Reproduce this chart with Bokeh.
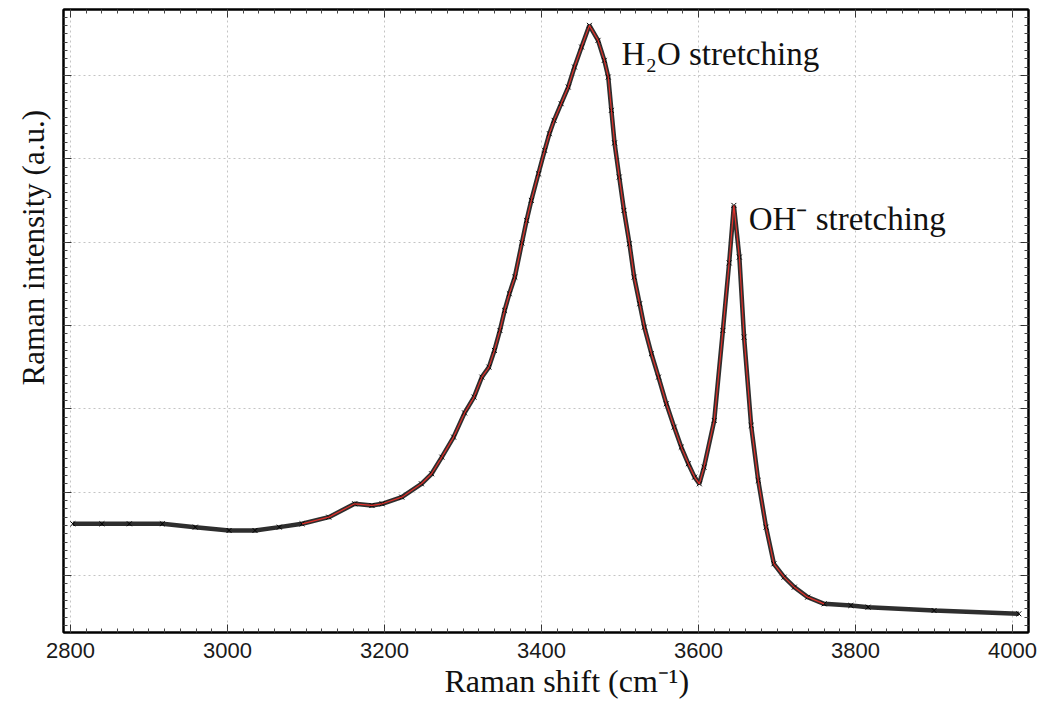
from bokeh.plotting import figure
from bokeh.models import Range1d, LinearAxis, SingleIntervalTicker, Label, Title
from bokeh.embed import file_html
from bokeh.resources import INLINE

# Raman shift (cm^-1) and intensity (a.u.)
wavenumber = [2803, 2840, 2875, 2917, 2959, 3002, 3035, 3066, 3095, 3129,
              3162, 3184, 3197, 3222, 3247, 3260, 3273, 3288, 3302, 3314,
              3324, 3333, 3340, 3347, 3353, 3359, 3366, 3375, 3381, 3387,
              3396, 3404, 3410, 3416, 3425, 3434, 3442, 3451, 3461, 3472,
              3480, 3485, 3489, 3493, 3499, 3505, 3512, 3518, 3525, 3531,
              3540, 3549, 3559, 3569, 3578, 3587, 3595, 3601, 3607, 3620,
              3631, 3639, 3645, 3652, 3658, 3667, 3676, 3686, 3696, 3709,
              3722, 3739, 3760, 3794, 3816, 3900, 4008]
intensity = [1.62, 1.62, 1.62, 1.62, 1.58, 1.54, 1.54, 1.58, 1.62, 1.70,
             1.86, 1.84, 1.86, 1.94, 2.10, 2.22, 2.42, 2.66, 2.95, 3.14,
             3.38, 3.50, 3.70, 3.94, 4.18, 4.38, 4.58, 4.99, 5.26, 5.50,
             5.82, 6.10, 6.30, 6.46, 6.66, 6.86, 7.10, 7.34, 7.60, 7.42,
             7.18, 6.98, 6.58, 6.19, 5.78, 5.38, 4.98, 4.58, 4.26, 3.98,
             3.66, 3.38, 3.06, 2.78, 2.54, 2.34, 2.18, 2.10, 2.30, 2.86,
             3.94, 4.75, 5.44, 4.82, 3.86, 2.80, 2.14, 1.58, 1.14, 0.98,
             0.86, 0.74, 0.66, 0.64, 0.62, 0.58, 0.54]
fit_range = [3095, 3760]

x_ticks_interval = 200
y_ticks_interval = 1

fit_x = [x for x in wavenumber if fit_range[0] <= x <= fit_range[1]]
fit_y = [y for x, y in zip(wavenumber, intensity) if fit_range[0] <= x <= fit_range[1]]

p = figure(width=1051, height=705,
           x_range=Range1d(2791.1, 4020.3), y_range=Range1d(0.316, 7.79),
           output_backend="svg", toolbar_location=None,
           min_border_left=61, min_border_right=23,
           min_border_top=9, min_border_bottom=73)
p.background_fill_color = "white"
p.border_fill_color = "white"
p.outline_line_color = "black"
p.outline_line_width = 2

xt = SingleIntervalTicker(interval=x_ticks_interval, num_minor_ticks=10)
yt = SingleIntervalTicker(interval=y_ticks_interval, num_minor_ticks=10)

def style_axis(ax, show_labels):
    ax.axis_line_color = "black"
    ax.axis_line_width = 2
    ax.major_tick_in = 8
    ax.major_tick_out = 0
    ax.minor_tick_in = 4
    ax.minor_tick_out = 0
    ax.major_tick_line_color = "#333333"
    ax.minor_tick_line_color = "#444444"
    if show_labels:
        ax.major_label_text_font = "Liberation Sans"
        ax.major_label_text_font_size = "22px"
        ax.major_label_text_color = "#1a1a1a"
        ax.major_label_standoff = 10
    else:
        ax.major_label_text_font_size = "0px"
        ax.major_label_text_color = None
        ax.major_label_standoff = 0

p.xaxis.ticker = xt
p.yaxis.ticker = yt
style_axis(p.xaxis[0], True)
style_axis(p.yaxis[0], False)

top = LinearAxis(ticker=xt)
style_axis(top, False)
p.add_layout(top, "above")
right = LinearAxis(ticker=yt)
style_axis(right, False)
p.add_layout(right, "right")

p.xgrid.ticker = xt
p.ygrid.ticker = yt
for g in (p.xgrid[0], p.ygrid[0]):
    g.grid_line_color = "#c4c4c4"
    g.grid_line_dash = "2 3"
    g.grid_line_width = 1

# measured data (dense markers look like a thick dark band)
p.line(wavenumber, intensity, color="black", line_width=4.5, alpha=0.82)
p.scatter(wavenumber, intensity, marker="x", size=7, color="black", line_width=1)
# fit
p.line(fit_x, fit_y, color="#e0302a", line_width=1.2)

p.add_layout(Label(x=3502, y=7.26, text="H₂O stretching",
                   text_font="Liberation Serif", text_font_size="33px",
                   text_color="#111111", text_baseline="alphabetic"))
p.add_layout(Label(x=3664, y=5.28, text="OH⁻ stretching",
                   text_font="Liberation Serif", text_font_size="33px",
                   text_color="#111111", text_baseline="alphabetic"))

# axis titles
xtitle = Title(text="Raman shift (cm⁻¹)", align="left", offset=381,
               text_font="Liberation Serif", text_font_size="32px",
               text_font_style="normal", text_color="#111111", standoff=0)
p.add_layout(xtitle, "below")
ytitle = Title(text="Raman intensity (a.u.)", align="left", offset=247,
               text_font="Liberation Serif", text_font_size="31px",
               text_font_style="normal", text_color="#111111", standoff=26)
p.add_layout(ytitle, "left")

open("out.html", "w").write(file_html(p, INLINE))
